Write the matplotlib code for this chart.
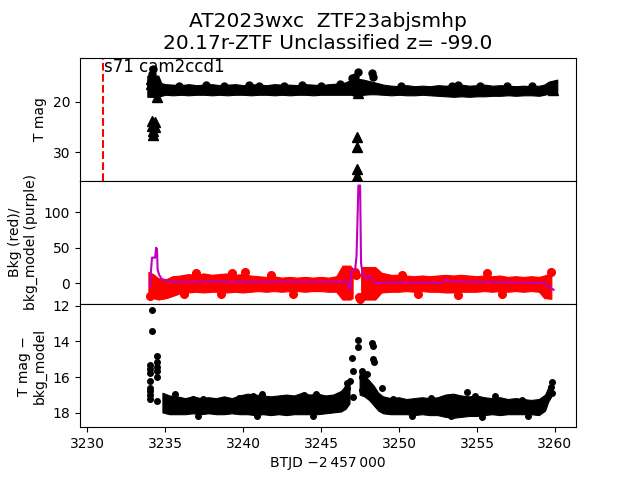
# TESS light curve panels for AT2023wxc

import numpy as np
import matplotlib
matplotlib.use("Agg")
import matplotlib.pyplot as plt

nan = np.nan

# ------------------------------------------------------------
# Text
# ------------------------------------------------------------
title_txt = "AT2023wxc  ZTF23abjsmhp\n20.17r-ZTF Unclassified z= -99.0"
sector_txt = "s71 cam2ccd1"
t_sector = 3231.0
xlabel_txt = "BTJD \u22122\u2009457\u2009000"

# ------------------------------------------------------------
# Top panel: T mag (dense band of points: bright and faint envelope)
# ------------------------------------------------------------
top_t = [3233.85, 3234.55, 3234.75,
         3235.0, 3235.5, 3236.0, 3236.5, 3237.0, 3237.5, 3238.0, 3238.5,
         3239.0, 3239.5, 3240.0, 3240.5, 3241.0, 3241.5, 3242.0, 3242.5,
         3243.0, 3243.5, 3244.0, 3244.5, 3245.0, 3245.5, 3246.0, 3246.5,
         3246.9, 3247.3, 3247.7, 3248.1, 3248.5,
         3249.0, 3249.5, 3250.0, 3250.5, 3251.0, 3251.5, 3252.0, 3252.5,
         3253.0, 3253.5, 3254.0, 3254.5, 3255.0, 3255.5, 3256.0, 3256.5,
         3257.0, 3257.5, 3258.0, 3258.5, 3259.0,
         3259.3, 3259.6, 3260.15]
top_hi = [14.8, 14.8, 16.3,
          16.5, 16.6, 16.7, 16.5, 16.7, 16.6, 16.5, 16.7,
          16.6, 16.5, 16.7, 16.5, 16.6, 16.7, 16.5, 16.6,
          16.6, 16.7, 16.5, 16.6, 16.7, 16.5, 16.4, 16.2,
          15.7, 15.4, 15.6, 15.9, 16.2,
          16.6, 16.8, 16.9, 16.7, 16.9, 16.8, 16.9, 16.7,
          16.8, 16.7, 16.6, 16.8, 16.7, 16.6, 16.8, 16.7,
          16.8, 16.9, 16.8, 16.9, 16.8,
          16.6, 16.0, 15.6]
top_lo = [19.0, 19.0, 18.8,
          18.6, 18.7, 18.6, 18.7, 18.6, 18.6, 18.7, 18.6,
          18.7, 18.6, 18.6, 18.7, 18.6, 18.6, 18.7, 18.6,
          18.7, 18.6, 18.6, 18.7, 18.6, 18.6, 18.6, 18.6,
          18.6, 18.9, 18.6, 18.5, 18.5,
          18.6, 18.7, 18.6, 18.7, 18.7, 18.6, 18.7, 18.8,
          18.9, 19.0, 18.9, 19.0, 18.9, 18.9, 18.8, 18.8,
          18.7, 18.8, 18.7, 18.7, 18.8,
          18.6, 18.4, 18.1]

# detections standing out of the band
top_pts_t = [3234.2, 3234.15, 3246.97, 3247.39, 3248.29, 3248.3, 3247.2,
             3235.9, 3237.6, 3238.8, 3240.4, 3241.0, 3242.6, 3243.8, 3245.0,
             3246.2, 3250.1, 3253.4, 3253.8, 3255.2, 3256.9, 3258.5]
top_pts_m = [13.5, 14.5, 15.2, 14.0, 14.3, 15.0, 15.0,
             16.8, 16.7, 16.8, 16.7, 16.8, 16.8, 16.7, 16.8,
             16.5, 16.9, 16.8, 16.7, 16.8, 16.9, 16.9]

# upper limits (triangles)
top_lim_t = [3234.15, 3234.15, 3234.2, 3234.2, 3234.35, 3234.35, 3234.45,
             3234.1, 3234.1, 3234.3,
             3247.3, 3247.3, 3247.3, 3247.3, 3247.35, 3259.9]
top_lim_m = [23.8, 24.8, 25.8, 26.6, 23.9, 24.9, 19.0,
             15.5, 16.5, 16.0,
             26.9, 28.9, 33.3, 34.6, 18.3, 17.6]

# ------------------------------------------------------------
# Middle panel: background (red) and background model (purple)
# ------------------------------------------------------------
bkg_t = [3233.95, 3234.25, 3234.6, 3235.1,
         3235.5, 3236.0, 3236.5, 3237.0, 3237.5, 3238.0, 3238.5, 3239.0,
         3239.5, 3240.0, 3240.5, 3241.0, 3241.5, 3242.0, 3242.5, 3243.0,
         3243.5, 3244.0, 3244.5, 3245.0, 3245.5, 3246.0,
         3246.4, 3246.9, 3247.05, 3247.3, 3247.6, 3248.0, 3248.5, 3248.9,
         3249.5, 3250.0, 3250.5, 3251.0, 3251.5, 3252.0, 3252.5,
         3253.0, 3253.5, 3254.0, 3254.5, 3255.0, 3255.5, 3256.0, 3256.5,
         3257.0, 3257.5, 3258.0, 3258.5, 3259.0,
         3259.35, 3259.8]
bkg_hi = [15, 12, 6, 5,
          9, 10, 12, 11, 13, 11, 12, 13,
          11, 12, 10, 9, 8, 9, 7, 8,
          7, 8, 7, 8, 7, 9,
          24, 24, 20, nan, 22, 22, 22, 14,
          11, 11, 10, 9, 10, 9, 10,
          11, 10, 11, 10, 9, 10, 9, 10,
          8, 9, 8, 9, 8,
          10, 14]
bkg_lo = [-22, -22, -24, -22,
          -19, -15, -14, -13, -14, -13, -13, -14,
          -13, -14, -13, -12, -13, -12, -13, -12,
          -12, -13, -12, -12, -13, -13,
          -24, -24, -22, nan, -24, -24, -24, -14,
          -13, -13, -12, -13, -12, -13, -13,
          -14, -14, -13, -13, -13, -12, -13, -12,
          -13, -12, -13, -12, -13,
          -22, -23]

bkg_pts_t = [3237.0, 3239.25, 3240.1, 3241.8, 3250.18, 3255.67, 3259.74,
             3234.0, 3247.15, 3247.25, 3247.45, 3247.5,
             3236.2, 3238.6, 3243.2, 3251.2, 3253.8, 3256.6]
bkg_pts_v = [14, 14, 15, 11, 12, 14, 16,
             -18, 15, 12, -19, -22,
             -16, -15, -15, -16, -17, -15]

model_t = [3234.02, 3234.09, 3234.15, 3234.35, 3234.41, 3234.47, 3234.51, 3234.6,
           3234.77, 3235.1, 3236.0, 3238.0, 3240.0, 3242.0, 3244.0, 3246.0,
           3246.65, 3246.86, 3246.95, 3247.18, 3247.27, 3247.39, 3247.5, 3247.56,
           3247.67, 3247.82, 3247.97, 3248.1, 3248.3, 3248.5, 3250.0, 3252.85,
           3253.07, 3253.28, 3255.0, 3257.0, 3259.27, 3259.91]
model_v = [-5, 19, 36, 36, 50, 48, 19, 12,
           6, 2, 1.5, 2, 1.5, 2, 1.5, 2,
           2, -9, 18, 19, 38, 138, 138, 28,
           12, 9, 7, 10, 5, 0, 1, 0.5,
           5.5, 2.5, 1.5, 1, 0, -9.5]

# ------------------------------------------------------------
# Bottom panel: T mag - bkg_model
# ------------------------------------------------------------
sub_t = [3234.85, 3235.3, 3235.8, 3236.3, 3236.8, 3237.3, 3237.8, 3238.3, 3238.8,
         3239.3, 3239.8, 3240.3, 3240.8, 3241.3, 3241.8, 3242.3, 3242.8, 3243.3,
         3243.8, 3244.3, 3244.8, 3245.3, 3245.8, 3246.3, 3246.6, 3246.85, 3247.2,
         3247.5, 3247.8, 3248.1, 3248.4, 3248.7, 3249.0, 3249.5, 3250.0, 3250.5,
         3251.0, 3251.5, 3252.0, 3252.5, 3253.0, 3253.5, 3254.0, 3254.5, 3255.0,
         3255.5, 3256.0, 3256.5, 3257.0, 3257.5, 3258.0, 3258.5, 3259.0, 3259.4,
         3259.6, 3259.8]
sub_hi = [16.9, 17.05, 17.1, 17.2, 17.1, 17.2, 17.15, 17.2, 17.1,
          17.2, 17.05, 16.95, 17.0, 17.05, 17.1, 17.05, 17.0, 17.05,
          16.9, 17.0, 16.95, 17.05, 17.0, 16.8, 16.5, 16.2, nan,
          15.8, 15.9, 16.2, 16.5, 16.9, 17.1, 17.2, 17.15, 17.25,
          17.2, 17.15, 17.2, 17.15, 17.0, 16.95, 17.05, 17.1, 17.05,
          17.15, 17.2, 17.15, 17.25, 17.2, 17.25, 17.3, 17.25, 17.0,
          16.6, 16.3]
sub_lo = [18.0, 18.1, 18.1, 18.1, 18.05, 18.1, 18.05, 18.1, 18.1,
          18.05, 18.1, 18.1, 18.15, 18.1, 18.15, 18.1, 18.15, 18.1,
          18.1, 18.1, 18.1, 18.05, 18.0, 17.95, 17.8, 17.5, nan,
          17.0, 17.1, 17.3, 17.6, 17.9, 18.05, 18.1, 18.1, 18.1,
          18.15, 18.1, 18.15, 18.15, 18.25, 18.3, 18.25, 18.2, 18.2,
          18.15, 18.1, 18.15, 18.1, 18.1, 18.1, 18.1, 18.15, 17.9,
          17.4, 17.1]

sub_pts_t = [3234.13, 3234.17, 3234.49, 3234.49, 3234.49, 3234.49, 3234.49,
             3234.02, 3234.02, 3234.02, 3234.02, 3234.02, 3234.02, 3234.02,
             3234.02, 3234.49,
             3246.65, 3246.65, 3246.82, 3246.97, 3247.03, 3247.03, 3247.39,
             3247.39, 3247.6, 3247.65, 3247.6, 3247.96, 3248.29, 3248.31,
             3248.31, 3248.36, 3248.9, 3259.8, 3259.75, 3259.8,
             3235.63, 3236.8, 3237.44, 3238.73, 3239.7, 3240.65, 3241.2,
             3243.87, 3244.68, 3245.9, 3249.64, 3252.04, 3254.35, 3254.88,
             3256.17, 3257.88, 3253.3,
             3237.1, 3240.9, 3244.5, 3250.8, 3255.3, 3258.3]
sub_pts_m = [12.23, 13.41, 14.82, 15.13, 15.45, 15.65, 16.0,
             15.3, 15.55, 15.75, 16.2, 16.6, 16.8, 17.0,
             17.2, 17.35,
             16.3, 16.6, 16.2, 14.95, 15.65, 17.1, 13.9,
             14.3, 15.65, 16.0, 16.7, 15.8, 14.1, 14.25,
             15.0, 15.15, 16.6, 16.25, 16.55, 16.9,
             16.95, 17.2, 17.2, 17.3, 17.15, 17.05, 16.95,
             17.0, 16.95, 17.15, 17.2, 17.15, 16.85, 17.05,
             17.05, 17.3, 18.2,
             18.15, 18.2, 18.15, 18.2, 18.25, 18.15]

# ------------------------------------------------------------
# Plot
# ------------------------------------------------------------
fig, (ax1, ax2, ax3) = plt.subplots(3, 1, sharex=True, figsize=(6.4, 4.8), dpi=100)
fig.subplots_adjust(hspace=0)

# top
ax1.fill_between(top_t, top_hi, top_lo, color="k", lw=0.8, edgecolor="k")
ax1.plot(top_pts_t, top_pts_m, "ko", ms=5)
ax1.plot(top_lim_t, top_lim_m, "k^", ms=7)
ax1.axvline(t_sector, color="r", ls="--", lw=1.5)
ax1.text(t_sector + 0.1, 1.0, sector_txt, transform=ax1.get_xaxis_transform(),
         va="top", ha="left", fontsize=12)
ax1.set_ylim(35.6, 11.25)
ax1.set_ylabel("T mag")
ax1.set_title(title_txt, fontsize=14.5)

# middle
ax2.fill_between(bkg_t, bkg_hi, bkg_lo, color="r", lw=0.8, edgecolor="r")
ax2.plot(bkg_pts_t, bkg_pts_v, "ro", ms=5.5)
ax2.plot(model_t, model_v, color="m", lw=1.5)
ax2.set_ylim(-29.6, 144.7)
ax2.set_ylabel("Bkg (red)/\nbkg_model (purple)")

# bottom
ax3.fill_between(sub_t, sub_hi, sub_lo, color="k", lw=0.8, edgecolor="k")
ax3.errorbar(sub_pts_t, sub_pts_m, yerr=0.1, fmt="ko", ms=4, elinewidth=1)
ax3.set_ylim(18.8, 11.9)
ax3.set_ylabel("T mag \u2212\nbkg_model")
ax3.set_xlim(3229.53, 3261.35)
ax3.set_xlabel(xlabel_txt)

plt.savefig("out.png")
